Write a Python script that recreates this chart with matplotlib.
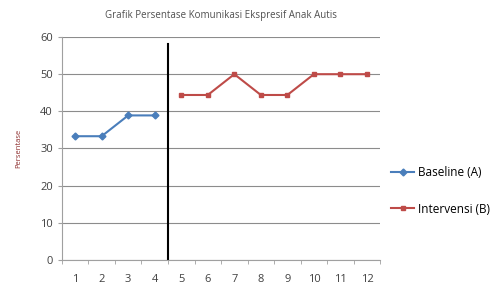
import numpy as np
import matplotlib.pyplot as plt

plt.rcParams['font.family'] = ['Open Sans', 'DejaVu Sans']

# data
sessions = [str(i) for i in range(1, 13)]
baseline_x = [1, 2, 3, 4]
baseline = [33.3, 33.3, 38.9, 38.9]
intervensi_x = [5, 6, 7, 8, 9, 10, 11, 12]
intervensi = [44.4, 44.4, 50.0, 44.4, 44.4, 50.0, 50.0, 50.0]
phase_change = 4.5

blue = '#4a7ebb'
red = '#be4b48'

fig = plt.figure(figsize=(4.99, 2.94), dpi=100)
ax = fig.add_axes([0.124, 0.116, 0.638, 0.758])

ax.plot(baseline_x, baseline, color=blue, marker='D', markersize=3.5, linewidth=1.5,
        label='Baseline (A)')
ax.plot(intervensi_x, intervensi, color=red, marker='s', markersize=3.5, linewidth=1.5,
        label='Intervensi (B)')

# phase change line
ax.plot([phase_change, phase_change], [0, 58], color='black', linewidth=1.5)

ax.set_xlim(0.5, 12.5)
ax.set_ylim(0, 60)
ax.set_yticks(np.arange(0, 61, 10))
ax.set_xticks(range(1, 13))
ax.set_xticklabels(sessions)
ax.set_xticks(np.arange(0.5, 12.6, 1), minor=True)
ax.tick_params(axis='x', which='major', length=0, labelsize=8, colors='#404040', pad=10)
ax.tick_params(axis='x', which='minor', length=3, color='#a0a0a0')
ax.tick_params(axis='y', length=3, color='#a0a0a0', labelsize=8, labelcolor='#404040')

ax.grid(axis='y', color='#8c8c8c', linewidth=0.8)
ax.set_axisbelow(True)
for s in ['top', 'right']:
    ax.spines[s].set_visible(False)
ax.spines['left'].set_color('#a0a0a0')
ax.spines['bottom'].set_color('#a0a0a0')

ax.set_ylabel('Persentase', fontsize=5.5, color='#8b2a2a', labelpad=13)
ax.set_title('Grafik Persentase Komunikasi Ekspresif Anak Autis', fontsize=7,
             color='#505050', pad=14)

ax.legend(loc='center left', bbox_to_anchor=(1.0, 0.31), frameon=False, fontsize=8.5,
          handlelength=2.0, labelspacing=2.0, handletextpad=0.3)

plt.savefig('out.png', dpi=100)
